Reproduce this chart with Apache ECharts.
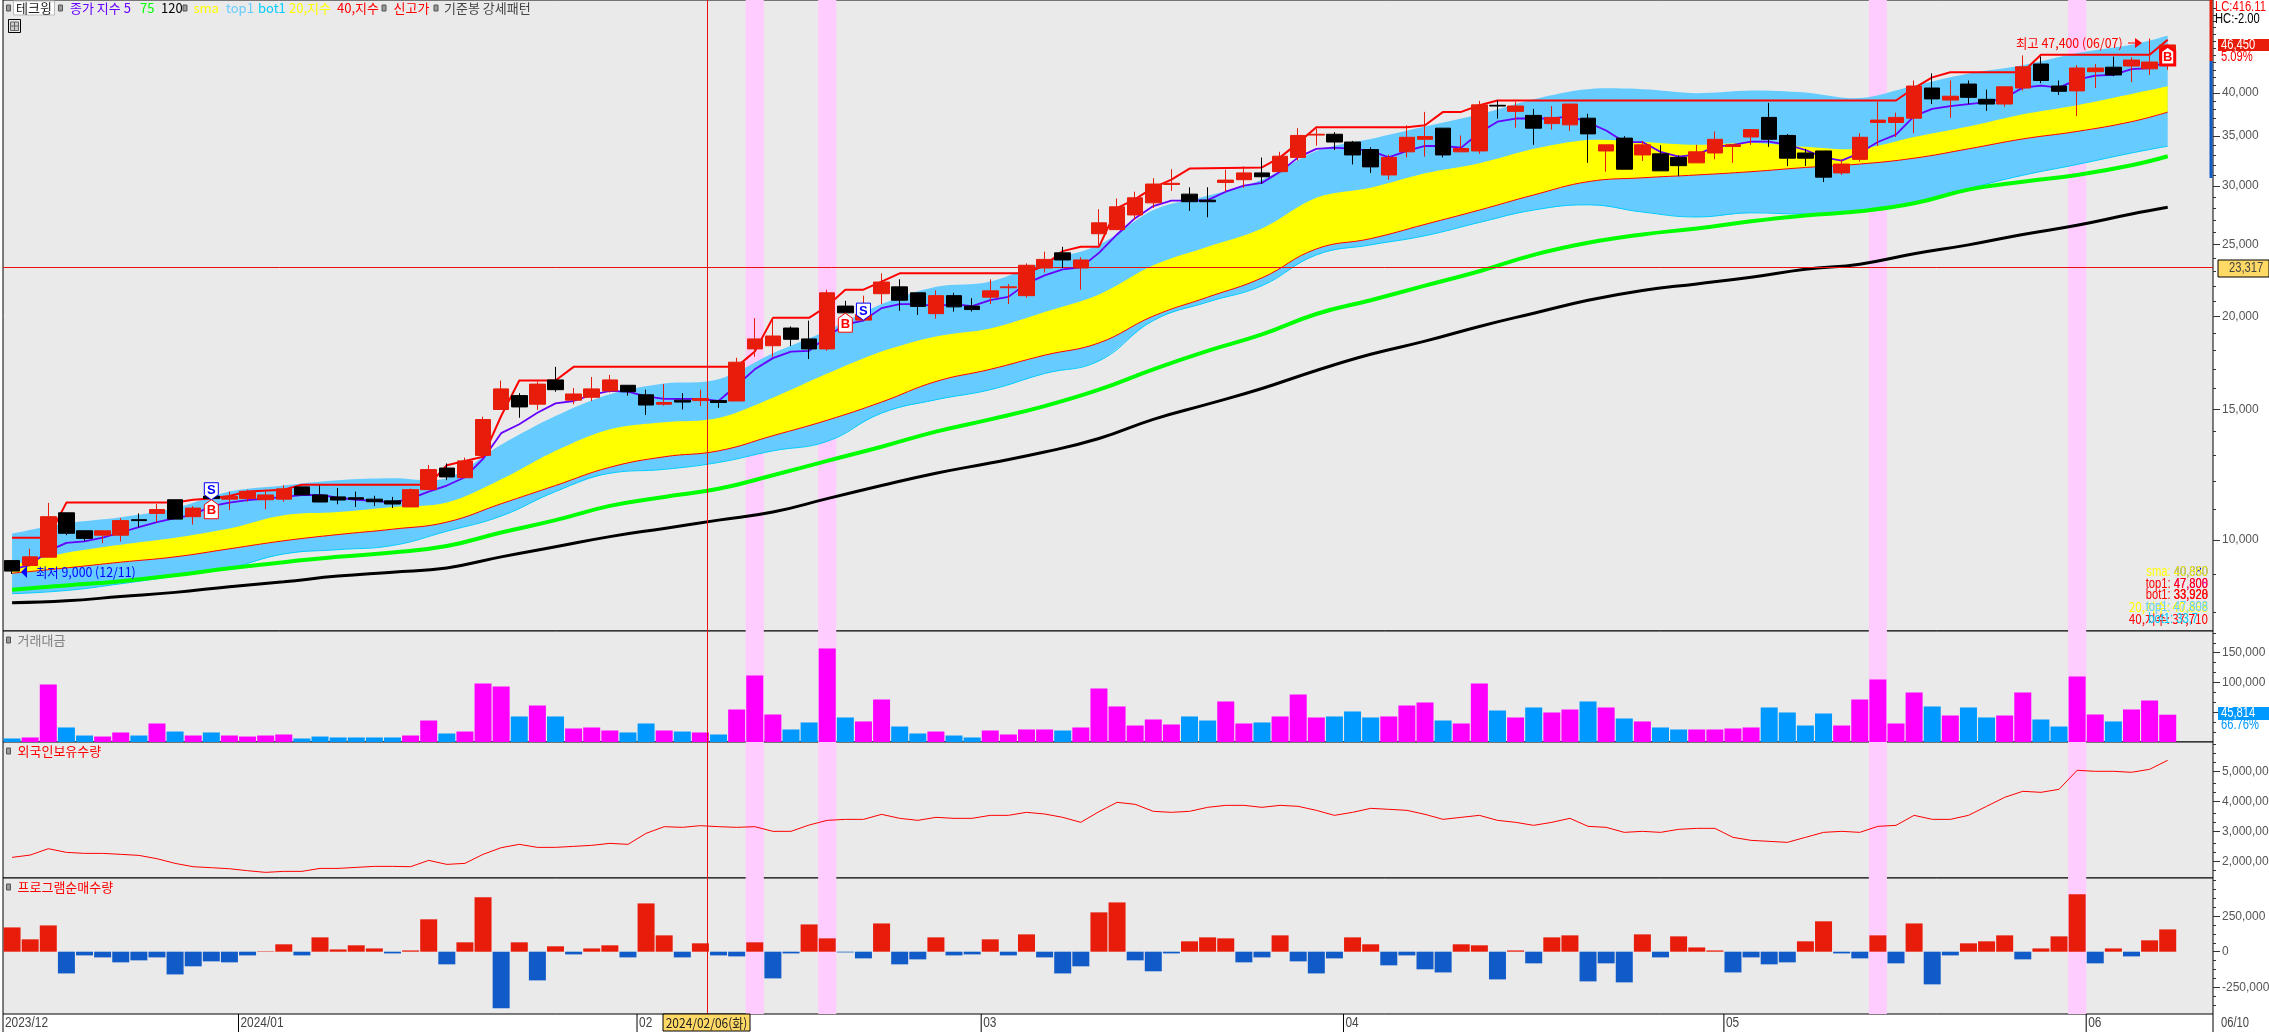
<!DOCTYPE html>
<html><head><meta charset="utf-8">
<script src="https://cdn.jsdelivr.net/npm/echarts@6/dist/echarts.min.js"></script>
<style>html,body{margin:0;padding:0;background:#fff}#c{width:2269px;height:1032px}</style>
</head><body><div id="c"></div>
<script>
const dates=['2023/12/11','2023/12/12','2023/12/13','2023/12/14','2023/12/15','2023/12/18','2023/12/19','2023/12/20','2023/12/21','2023/12/22','2023/12/26','2023/12/27','2023/12/28',
'2024/01/02','2024/01/03','2024/01/04','2024/01/05','2024/01/08','2024/01/09','2024/01/10','2024/01/11','2024/01/12','2024/01/15','2024/01/16','2024/01/17','2024/01/18','2024/01/19','2024/01/22','2024/01/23','2024/01/24','2024/01/25','2024/01/26','2024/01/29','2024/01/30','2024/01/31',
'2024/02/01','2024/02/02','2024/02/05','2024/02/06','2024/02/07','2024/02/08','2024/02/13','2024/02/14','2024/02/15','2024/02/16','2024/02/19','2024/02/20','2024/02/21','2024/02/22','2024/02/23','2024/02/26','2024/02/27','2024/02/28','2024/02/29',
'2024/03/04','2024/03/05','2024/03/06','2024/03/07','2024/03/08','2024/03/11','2024/03/12','2024/03/13','2024/03/14','2024/03/15','2024/03/18','2024/03/19','2024/03/20','2024/03/21','2024/03/22','2024/03/25','2024/03/26','2024/03/27','2024/03/28','2024/03/29',
'2024/04/01','2024/04/02','2024/04/03','2024/04/04','2024/04/05','2024/04/08','2024/04/09','2024/04/11','2024/04/12','2024/04/15','2024/04/16','2024/04/17','2024/04/18','2024/04/19','2024/04/22','2024/04/23','2024/04/24','2024/04/25','2024/04/26','2024/04/29','2024/04/30',
'2024/05/02','2024/05/03','2024/05/07','2024/05/08','2024/05/09','2024/05/10','2024/05/13','2024/05/14','2024/05/16','2024/05/17','2024/05/20','2024/05/21','2024/05/22','2024/05/23','2024/05/24','2024/05/27','2024/05/28','2024/05/29','2024/05/30','2024/05/31',
'2024/06/03','2024/06/04','2024/06/05','2024/06/07','2024/06/10'];
const blankCats=['',' '];
// open, close, low, high
const ohlc=[[9380,9080,9000,9380],[9240,9490,9220,9730],[9480,10750,9480,11220],[10880,10210,10150,10880],[10290,10050,9970,10290],[10150,10290,9900,10290],[10150,10620,9950,10700],[10650,10620,10400,10860],[10860,10990,10570,11180],[11330,10670,10670,11330],
[10750,11040,10490,11110],[11460,11370,11230,11620],[11350,11450,10970,11620],[11370,11630,11260,11690],[11330,11500,11000,11690],[11350,11720,11260,11850],[11790,11500,11500,11790],[11500,11250,11250,11840],[11430,11320,11170,11750],[11400,11350,11080,11620],
[11350,11260,11110,11470],[11290,11180,11040,11430],[11080,11690,11080,11730],[11690,12440,11690,12620],[12500,12160,12040,12680],[12130,12780,12130,12910],[13000,14530,13000,14660],[14990,15980,14990,16400],[15650,15110,14610,15770],[15240,16220,14970,16350],
[16430,15940,15840,17110],[15430,15730,15240,16020],[15570,15980,15390,16580],[15880,16430,15800,16690],[16160,15840,15650,16160],[15690,15200,14740,15940],[15240,15320,15170,16220],[15430,15340,14990,15770],[15410,15510,15150,15940],[15410,15320,15060,15410],
[15390,17360,15390,17600],[18090,18660,17650,19900],[18270,18830,17650,19920],[19300,18640,18250,19400],[18660,18090,17530,19750],[18090,21530,17980,21740],[20660,20230,19640,21000],[19780,20130,19780,21340],[21470,22260,20790,22870],[21930,21040,20360,22450],
[21530,20640,20100,21530],[20180,21340,19870,21690],[21340,20610,20310,21530],[20660,20440,20310,21170],[21240,21660,20790,22450],[21870,21930,20790,22120],[21340,23450,21200,23590],[23250,23880,22930,24460],[24370,23840,23250,24830],[23250,23840,21740,24050],
[25860,26750,24980,27900],[26190,28110,26190,28840],[27410,28910,27020,29460],[28460,30170,28010,30720],[30130,30240,29540,31590],[29240,28560,27760,29870],[28700,28560,27210,29870],[30320,30540,29460,31550],[30580,31230,29830,31860],[31230,30860,30200,32750],
[31350,32890,31310,33340],[32770,35080,32450,35880],[35120,35210,33990,35840],[35210,34370,33530,35440],[34370,33020,32060,34490],[33570,31820,31230,33820],[31030,32770,30580,33050],[33340,34880,32770,36210],[34660,34960,32850,37740],[35880,33020,32770,35880],
[33340,33690,33340,35080],[33430,38570,33130,39050],[38520,38430,36970,39100],[37800,38430,35940,38950],[37330,35880,34070,38090],[36390,37100,35720,38430],[36250,38670,35580,38670],[37010,35250,32220,37520],[33430,34070,31350,34070],[34790,31590,31590,35000],
[33020,34070,32410,34490],[33130,31430,31430,34030],[32770,31940,30910,32980],[32220,33340,32220,34070],[33220,34660,32570,35520],[33900,34070,32220,34070],[34910,35720,34070,35720],[37100,34660,33860,38810],[35080,32690,31900,35250],[33220,32690,31900,33650],
[33430,30820,30350,33430],[31230,32100,31030,32570],[32570,34880,32340,35330],[36520,36790,33950,38950],[36520,37100,34910,37650],[37010,40890,35330,41600],[40640,39290,38670,42530],[39150,39620,37050,41600],[41140,39480,38670,41600],[39240,38670,37860,40430],
[38670,40790,38340,40790],[40640,43400,40330,44970],[43780,41600,41250,44800],[40890,40230,39770,41600],[40280,43240,37240,43620],[42750,43240,40640,43780],[43350,42320,42160,44800],[43510,44320,41400,44700],[43130,44050,42320,47400],[44300,46450,43000,46450]];
const ema5=[9130,9250,9670,9910,9960,10070,10235,10410,10570,10700,10810,11110,11230,11320,11370,11430,11490,11500,11400,11330,11290,11230,11370,11620,11840,12150,12860,13930,14320,14840,15280,15390,15690,15880,15840,15610,15490,15490,15490,15390,16150,16980,17580,17940,17980,18800,19520,19750,20530,20790,20790,20660,20790,20660,21040,21260,22150,22730,23160,23300,24370,25800,27140,28180,28650,28650,28700,29460,30020,30280,31350,32770,33650,33780,33650,33430,32770,33430,33950,33950,33780,35380,36610,36970,36970,36970,37240,36520,35620,34370,34370,33340,32850,33050,33860,34070,34410,34410,34070,33530,32770,32450,33220,34370,35170,37240,38100,38430,38670,38910,39390,40690,40940,40690,41710,42240,42340,43080,43240,44160];
// curves read at these candle positions
const curveIdx=[0,3,6,9,12,15,18,21,24,27,30,33,36,39,42,45,48,51,54,57,60,63,66,69,72,75,78,81,84,87,90,93,96,99,102,105,108,111,114,117,119];
const top1=[10200,10530,10730,11040,11620,11840,12040,12115,12115,13440,14690,15720,16250,16460,17850,19150,20790,21930,22290,23740,24980,27830,29090,30580,33420,34700,36070,37450,39250,40500,40500,40000,40330,40070,39390,40940,42500,43620,45290,46470,47808];
const bot1=[8465,8550,8730,8940,9170,9575,9705,9830,10275,10770,11620,12300,12450,12720,13185,13580,14820,15450,15940,16760,17430,19750,20920,22010,24215,24980,25700,26780,27830,28285,27660,27240,27590,27490,27660,28530,29760,31000,32060,33220,33928];
const sma=[9250,9610,9855,10070,10365,10800,10905,11075,11230,12070,13185,14100,14410,14600,15550,16760,17940,18800,19275,20280,21420,23450,24830,26290,28910,29830,31190,32180,33650,34580,34370,34070,34280,33860,33650,34910,36070,37450,38530,39900,40860];
const idx40=[9020,9170,9335,9490,9730,9975,10170,10340,10570,11190,11840,12530,12945,13185,13820,14500,15340,16350,16980,17740,18430,20030,21240,22550,24670,25470,26620,27830,29165,30390,30760,31030,31350,31760,32100,32690,33650,34700,35520,36610,37710];
const ma75=[8570,8685,8800,8965,9160,9335,9490,9620,9815,10235,10635,11115,11430,11720,12225,12780,13355,13995,14540,15150,15940,16980,17980,18920,20160,21040,22010,23020,24215,25140,25800,26290,26880,27370,27730,28420,29650,30390,31030,31980,32890];
const ma120=[8230,8280,8390,8500,8650,8785,8940,9050,9170,9490,9790,10105,10365,10635,10905,11370,11840,12300,12700,13135,13700,14540,15240,16000,16920,17790,18530,19396,20210,21040,21690,22130,22590,23160,23530,24300,24980,25800,26550,27490,28070];
const newHigh=[[0,10070],[2,10070],[3,11230],[9,11230],[10,11330],[11,11370],[12,11460],[13,11620],[15,11690],[16,11870],[23,11870],[24,12610],[26,12950],[27,14690],[28,16400],[30,16400],[31,17110],[40,17110],[41,17950],[42,19920],[44,19920],[45,20660],[46,21740],[47,21740],[48,22290],[49,22870],[56,22870],[57,23450],[58,24500],[59,24830],[60,24830],[61,27990],[62,28790],[63,29830],[64,30580],[65,31650],[69,31760],[70,32770],[71,34280],[72,35970],[77,35970],[78,36210],[79,37740],[80,37740],[81,38520],[82,39100],[104,39100],[105,40640],[106,42000],[107,42680],[111,42680],[112,45070],[118,45070],[119,47200]];
const turnover=[5900,7600,96600,24400,10900,9200,16000,10900,31100,17600,10900,16000,10900,9200,10900,12600,5900,9200,7600,7600,7600,7600,10900,36100,14300,17600,98300,93300,42900,61300,42900,22700,24400,19300,16000,31100,19300,17600,16000,12600,54600,111800,46200,21000,32800,157100,41200,34500,71400,26000,14300,17600,10900,7600,19300,12600,21000,21000,19300,24400,89900,59700,27700,37800,29400,42900,36100,68100,31100,32800,42900,79800,41200,42900,51300,41200,42900,61300,66400,36100,31100,98300,52900,41200,58000,49600,54600,68100,58000,39500,34500,24400,21000,21000,21000,22700,24400,58000,49600,27700,47900,27700,71400,105000,31100,83200,59700,44500,58000,41200,44500,83200,37800,26000,110100,46200,34500,54600,69700,45814];
const turnoverDown=[0,3,4,7,9,11,16,17,18,19,20,21,24,28,30,34,35,37,39,43,44,46,49,50,52,53,58,65,66,69,73,74,75,79,82,84,87,89,91,92,97,98,99,100,106,108,109,112,113,116];
const foreignHold=[2143000,2220000,2431000,2309000,2276000,2276000,2243000,2209000,2099000,1944000,1833000,1800000,1766000,1700000,1645000,1678000,1678000,1777000,1777000,1811000,1844000,1844000,1833000,2043000,1910000,1944000,2243000,2464000,2575000,2475000,2475000,2508000,2542000,2608000,2575000,2940000,3162000,3140000,3195000,3162000,3140000,3162000,3007000,3007000,3217000,3372000,3405000,3405000,3571000,3439000,3372000,3472000,3439000,3439000,3538000,3538000,3638000,3583000,3472000,3306000,3660000,3970000,3904000,3671000,3638000,3671000,3804000,3870000,3870000,3804000,3870000,3837000,3704000,3538000,3638000,3771000,3738000,3704000,3571000,3405000,3472000,3538000,3372000,3306000,3206000,3306000,3439000,3173000,3140000,2973000,3007000,2973000,3073000,3106000,3106000,2807000,2708000,2674000,2641000,2807000,2973000,3007000,2973000,3173000,3206000,3538000,3405000,3405000,3538000,3837000,4136000,4336000,4302000,4402000,5033000,5000000,5000000,4967000,5066000,5365000];
const programNet=[171000,87000,185000,-153000,-26000,-40000,-75000,-61000,-40000,-160000,-103000,-68000,-75000,-26000,3000,52000,-26000,101000,16000,45000,23000,-12000,9000,228000,-89000,66000,383000,-399000,66000,-202000,38000,-19000,23000,45000,-40000,340000,115000,-40000,59000,-26000,-33000,66000,-188000,-12000,192000,94000,-5000,-47000,199000,-89000,-54000,101000,-26000,-19000,87000,-26000,122000,-40000,-153000,-103000,277000,347000,-61000,-138000,-12000,73000,101000,94000,-75000,-40000,115000,-68000,-153000,-47000,101000,52000,-96000,-26000,-124000,-146000,52000,45000,-195000,9000,-82000,101000,115000,-209000,-82000,-216000,122000,-40000,108000,30000,9000,-146000,-40000,-89000,-75000,73000,214000,-12000,-47000,115000,-82000,199000,-230000,-26000,59000,73000,115000,-54000,23000,108000,404000,-82000,23000,-33000,80000,157000];
const pinkBars=[41,45,103,114];
const signals=[{i:11,kind:'S',price:11330},{i:11,kind:'B',price:11330},{i:46,kind:'B',price:20210},{i:47,kind:'S',price:19780},{i:119,kind:'B',price:46300,bold:true}];
const monthMarks=[{i:0,t:'2023/12'},{i:13,t:'2024/01'},{i:35,t:'02'},{i:54,t:'03'},{i:74,t:'04'},{i:95,t:'05'},{i:115,t:'06'}];
const priceTicks=[10000,15000,20000,25000,30000,35000,40000];
const priceMinor=[8000,9000,11000,12000,13000,14000,16000,17000,18000,19000,21000,22000,23000,24000,26000,27000,28000,29000,31000,32000,33000,34000,36000,37000,38000,39000,41000,42000,43000,44000,45000,46000,47000,48000,49000,50000,51000,52000];
const turnTicks=[50000,100000,150000];
const turnMinor=[16667,33333,66667,83333,116667,133333,166667,183333];
const holdTicks=[2000000,3000000,4000000,5000000];
const holdMinor=[1700000,2300000,2600000,3300000,3600000,4300000,4600000,5300000,5600000,5900000];
const progTicks=[-250000,0,250000];
const progMinor=[-375000,-312500,-187500,-125000,-62500,62500,125000,187500,312500,375000,437500,500000];

const RED='#E81C0A',BLUEBAR='#115BC8',PINK='#FFCCFF',CY='#66CCFF',YEL='#FFFF00';
const KR='Noto Sans CJK KR';
const NUM='Liberation Sans';
const cats=dates.concat(blankCats);
const L=3,R=56;
const panes=[{top:0,h:631},{top:631,h:111},{top:742,h:136},{top:878,h:136}];
const grids=panes.map(p=>({left:L,right:R,top:p.top,height:p.h,show:true,outerBoundsMode:'none',containLabel:false,backgroundColor:'#EAEAEA',borderColor:'#000',borderWidth:1}));
const xAxes=panes.map((p,k)=>({type:'category',gridIndex:k,data:cats,show:false,boundaryGap:true}));
function yPair(k,type,min,max,ticks,minor){
  const fmt=v=>Math.round(v).toLocaleString('en-US');
  return [{type,gridIndex:k,position:'right',min,max,scale:true,splitLine:{show:false},axisLine:{show:false},
    axisTick:{show:true,length:7,lineStyle:{color:'#333'},customValues:ticks},
    axisLabel:{show:true,margin:9,color:'#555',fontFamily:NUM,fontSize:12,customValues:ticks,formatter:fmt,hideOverlap:false},minorTick:{show:false},minorSplitLine:{show:false}},
   {type,gridIndex:k,position:'right',min,max,scale:true,splitLine:{show:false},axisLine:{show:false},
    axisTick:{show:true,length:3,lineStyle:{color:'#333'},customValues:minor},
    axisLabel:{show:false,customValues:minor},minorTick:{show:false},minorSplitLine:{show:false}}];
}
const yAxes=[].concat(
  yPair(0,'log',7540,53400,priceTicks,priceMinor),
  yPair(1,'value',0,186500,turnTicks,turnMinor),
  yPair(2,'value',1458000,5973000,holdTicks,holdMinor),
  yPair(3,'value',-438700,519000,progTicks,progMinor));
const yIdx=[0,2,4,6];
const base={silent:true,animation:false};

function pinkSeries(k,ref){return Object.assign({},base,{type:'custom',xAxisIndex:k,yAxisIndex:yIdx[k],z:1,clip:true,
  data:pinkBars.map(i=>[i,ref]),encode:{x:0,y:1},
  renderItem(params,api){const cs=params.coordSys,bw=cs.width/cats.length,c=api.coord([pinkBars[params.dataIndex],ref]);
    return {type:'rect',shape:{x:c[0]-bw/2,y:cs.y,width:bw,height:cs.height},style:{fill:PINK}};}});}
// curved edge through the read points, in pixel space (drawing only, no extra data)
function spline(p){const out=[];for(let n=0;n<p.length-1;n++){
  const a=p[Math.max(n-1,0)],b=p[n],c=p[n+1],d=p[Math.min(n+2,p.length-1)];
  for(let s=0;s<8;s++){const u=s/8,u2=u*u,u3=u2*u;
    out.push([0,1].map(k=>0.5*(2*b[k]+(c[k]-a[k])*u+(2*a[k]-5*b[k]+4*c[k]-d[k])*u2+(3*b[k]-a[k]-3*c[k]+d[k])*u3)));}}
  out.push(p[p.length-1]);return out;}
function bandSeries(up,lo,color,z){return Object.assign({},base,{type:'custom',xAxisIndex:0,yAxisIndex:0,z,clip:true,
  data:[[0,up[0]]],encode:{x:0,y:1},
  renderItem(params,api){const a=spline(curveIdx.map((i,n)=>api.coord([i,up[n]]))),b=spline(curveIdx.map((i,n)=>api.coord([i,lo[n]])));
    return {type:'polygon',shape:{points:a.concat(b.reverse())},style:{fill:color}};}});}
function curve(vals,color,w,z){return Object.assign({},base,{type:'line',xAxisIndex:0,yAxisIndex:0,z,showSymbol:false,symbol:'none',smooth:0.45,
  data:curveIdx.map((i,n)=>[i,vals[n]]),lineStyle:{color,width:w}});}

const series=[
  pinkSeries(0,10000),pinkSeries(1,1000),pinkSeries(2,3000000),pinkSeries(3,0),
  bandSeries(top1,bot1,CY,2),
  bandSeries(sma,idx40,YEL,3),
  curve(bot1,'#00CCFF',1,4),
  curve(idx40,'#FF0000',1,4),
  curve(ma75,'#00FF00',4,4),
  curve(ma120,'#000000',3,4),
  Object.assign({},base,{type:'line',xAxisIndex:0,yAxisIndex:0,z:5,symbol:'none',data:ema5,lineStyle:{color:'#6600FF',width:1.8}}),
  Object.assign({},base,{type:'line',xAxisIndex:0,yAxisIndex:0,z:5,symbol:'none',data:newHigh,lineStyle:{color:'#FF0000',width:2},
    markLine:{silent:true,symbol:'none',animation:false,label:{show:false},lineStyle:{color:'#E81010',width:1,type:'solid'},data:[{yAxis:23317}]}}),
  Object.assign({},base,{type:'candlestick',xAxisIndex:0,yAxisIndex:0,z:6,barWidth:16,data:ohlc,
    itemStyle:{color:RED,color0:'#000000',borderColor:RED,borderColor0:'#000000',borderWidth:1}}),
  Object.assign({},base,{type:'custom',xAxisIndex:0,yAxisIndex:0,z:8,data:signals.map(s=>[s.i,s.price]),encode:{x:0,y:1},
    renderItem(params,api){const s=signals[params.dataIndex],c=api.coord([s.i,s.price]),x=c[0],y=c[1],w=7;
      const col=s.kind==='B'?'#FF0000':'#0000FF';let pts;
      if(s.kind==='B')pts=[[x,y],[x+w,y+5],[x+w,y+19],[x-w,y+19],[x-w,y+5]];
      else pts=[[x-w,y-17],[x+w,y-17],[x+w,y-5],[x,y],[x-w,y-5]];
      return {type:'group',children:[
        {type:'polygon',shape:{points:pts},style:{fill:'#fff',stroke:col,lineWidth:s.bold?3:1}},
        {type:'text',style:{text:s.kind,x,y:s.kind==='B'?y+11:y-9,fill:col,fontFamily:NUM,fontSize:13,fontWeight:'bold',textAlign:'center',textVerticalAlign:'middle'}}]};}}),
  Object.assign({},base,{type:'bar',xAxisIndex:1,yAxisIndex:2,z:3,barWidth:17,
    data:turnover.map((v,i)=>({value:v,itemStyle:{color:turnoverDown.includes(i)?'#0099FF':'#FF00FF'}}))}),
  Object.assign({},base,{type:'line',xAxisIndex:2,yAxisIndex:4,z:3,symbol:'none',data:foreignHold,lineStyle:{color:'#FF0000',width:1}}),
  Object.assign({},base,{type:'bar',xAxisIndex:3,yAxisIndex:6,z:3,barWidth:17,
    data:programNet.map(v=>({value:v,itemStyle:{color:v>=0?RED:BLUEBAR}}))}),
  Object.assign({},base,{type:'custom',xAxisIndex:3,yAxisIndex:6,z:8,data:monthMarks.map(m=>[m.i,0]),encode:{x:0,y:1},
    renderItem(params,api){const m=monthMarks[params.dataIndex],cs=params.coordSys,bw=cs.width/cats.length,x=api.coord([m.i,0])[0]-bw/2,y=cs.y+cs.height;
      return {type:'group',children:[
        {type:'line',shape:{x1:x,y1:y,x2:x,y2:1032},style:{stroke:'#000',lineWidth:1}},
        {type:'text',x:x+2,y:y+9,scaleX:0.85,style:{text:m.t,x:0,y:0,fill:'#444',fontFamily:NUM,fontSize:14,textAlign:'left',textVerticalAlign:'middle'}}]};}})
];

function t(x,y,text,fill,fam,size,align,scale){return {type:'text',x,y,z:50,silent:true,scaleX:scale||1,style:{text,fill,fontFamily:fam||KR,fontSize:size||13,align:align||'left',verticalAlign:'middle'}};}
function n(x,y,text,fill,align){return t(x,y,text,fill,NUM,14,align,0.8);}
function sq(x,y){return {type:'rect',z:50,silent:true,shape:{x,y:y-3,width:4,height:6},style:{fill:'#999',stroke:'#555',lineWidth:1}};}
function box(x,y,w,h,fill,stroke){return {type:'rect',z:49,silent:true,shape:{x,y,width:w,height:h},style:{fill,stroke:stroke||null,lineWidth:1}};}
const gfx=[
  {type:'line',z:40,silent:true,shape:{x1:707.5,y1:0,x2:707.5,y2:1014},style:{stroke:'#E81010',lineWidth:1}},
  // header legend
  sq(6.5,8),box(13.5,1,41,14,'#fff','#bbb'),t(16,8,'테크윙','#222'),
  sq(58.5,8),t(70,8,'종가 지수 5','#6600FF'),t(140,8,'75','#00FF00'),t(161,8,'120','#000'),
  sq(183,8),t(193.5,8,'sma','#FFFF00'),t(226,8,'top1','#66CCFF'),t(258,8,'bot1','#00CCFF'),t(289,8,'20,지수','#FFFF00'),t(337,8,'40,지수','#FF0000'),
  sq(382,8),t(393.5,8,'신고가','#FF0000'),
  sq(434,8),t(444,8,'기준봉 강세패턴','#444'),
  // table icon
  box(8.5,19.5,12,13,'#EAEAEA','#000'),
  {type:'rect',z:50,silent:true,shape:{x:10.5,y:22,width:8,height:8.5},style:{fill:'#ccc',stroke:'#666',lineWidth:1}},
  {type:'line',z:51,silent:true,shape:{x1:14.5,y1:22,x2:14.5,y2:30.5},style:{stroke:'#666'}},
  {type:'line',z:51,silent:true,shape:{x1:10.5,y1:26,x2:18.5,y2:26},style:{stroke:'#666'}},
  // annotations
  t(2016,43,'최고 47,400 (06/07)','#FF0000',KR,13,'left',0.95),
  {type:'line',z:50,silent:true,shape:{x1:2128,y1:43,x2:2140,y2:43},style:{stroke:'#FF0000',lineWidth:1}},
  {type:'polygon',z:50,silent:true,shape:{points:[[2135,38],[2142,43],[2135,48]]},style:{fill:'#FF0000'}},
  {type:'polygon',z:50,silent:true,shape:{points:[[21,572],[27,566],[27,578]]},style:{fill:'#0000FF'}},
  t(36,572,'최저 9,000 (12/11)','#0000FF',KR,13,'left',0.95),
  // pane titles
  sq(6.5,640),t(17.5,640,'거래대금','#808080'),
  sq(6.5,751),t(17.5,751,'외국인보유수량','#FF0000'),
  sq(6.5,887),t(17.5,887,'프로그램순매수량','#FF0000'),
  // right side info
  box(2209.5,0,3,61,RED),box(2209.5,61,3,117,BLUEBAR),
  n(2215,7,'LC:416.11','#FF0000'),n(2215,19,'HC:-2.00','#000'),
  box(2218,39,51,12,RED),n(2221,45,'46,450','#fff'),n(2221,57,'5.09%','#FF0000'),
  box(2218,260,51,17,'#FFD966','#000'),n(2229,268.5,'23,317','#444'),
  box(2218,707,51,13,'#0099FF'),n(2221,713.5,'45,814','#fff'),n(2221,725,'66.76%','#0099FF'),
  // value read-out
  n(2208,572,'40,880','#0000FF','right'),n(2208,572,'sma: 40,860','#FFFF00','right'),
  n(2208,584,'47,808','#FF00CC','right'),n(2208,584,'top1: 47,800','#FF0000','right'),
  n(2208,595,'33,920','#FF0000','right'),n(2208,595,'bot1: 33,928','#FF0000','right'),
  t(2208,607,'20,지수: 40,868','#FFFF00',KR,13,'right',0.9),n(2208,607,'top1: 47,808','#66CCFF','right'),
  t(2208,619,'40,지수: 37,710','#FF0000',KR,13,'right',0.9),n(2198,619,'bot1: 33,7','#00CCFF','right'),
  // bottom axis
  box(663,1014,87,17,'#FFD966','#000'),t(706.5,1023,'2024/02/06(화)','#222',KR,13,'center',0.92),
  {type:'line',z:50,silent:true,shape:{x1:2213,y1:1014,x2:2213,y2:1032},style:{stroke:'#000',lineWidth:1}},
  n(2221,1023,'06/10','#444')
];

const chart=echarts.init(document.getElementById('c'),null,{renderer:'canvas',width:2269,height:1032});
chart.setOption({animation:false,backgroundColor:'#fff',grid:grids,xAxis:xAxes,yAxis:yAxes,series,graphic:{elements:gfx},tooltip:{show:false}});
</script></body></html>
